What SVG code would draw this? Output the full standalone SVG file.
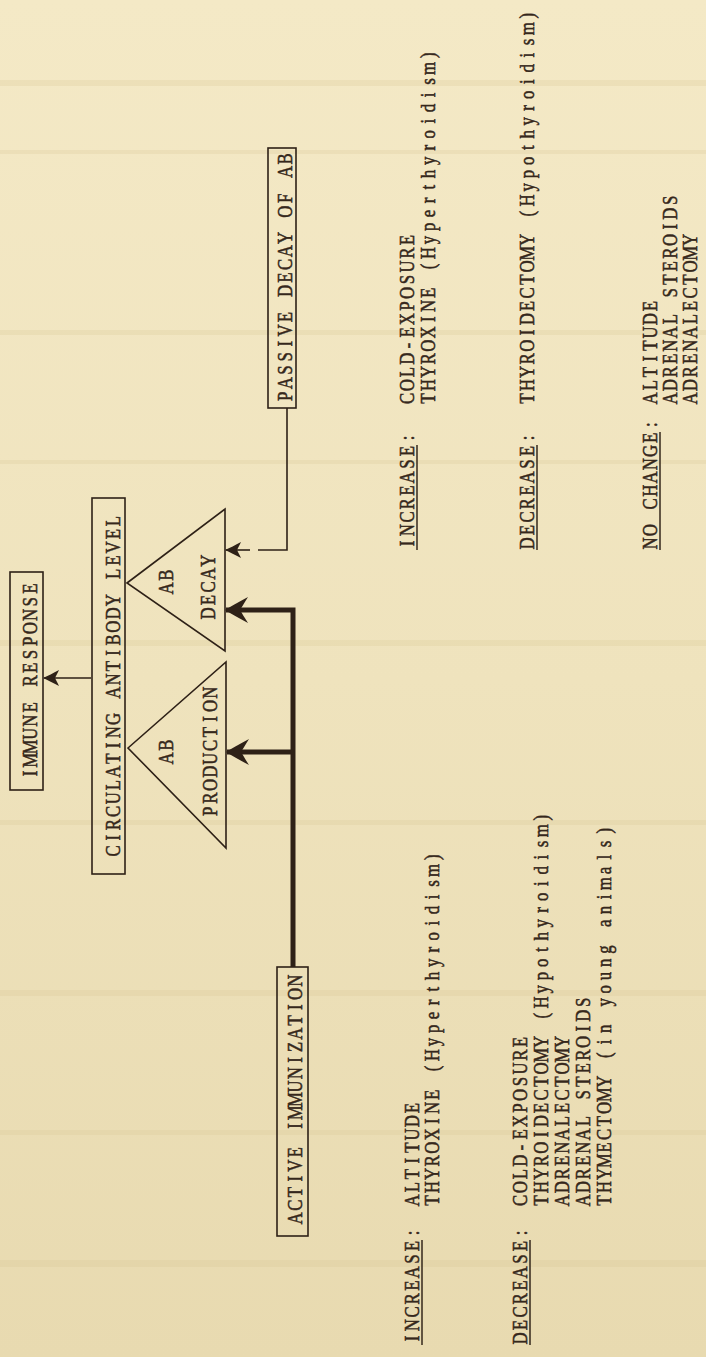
<svg xmlns="http://www.w3.org/2000/svg" width="706" height="1357" viewBox="0 0 706 1357">
<defs>
<linearGradient id="bg" x1="0" y1="0" x2="0" y2="1">
<stop offset="0" stop-color="#f4e9c6"/>
<stop offset="0.5" stop-color="#efe3bd"/>
<stop offset="1" stop-color="#e8dab0"/>
</linearGradient>
<marker id="ahThin" markerUnits="userSpaceOnUse" orient="auto" refX="0" refY="0" markerWidth="40" markerHeight="40" overflow="visible">
<path d="M1,0 C-4,-2 -9,-5 -15,-8 C-13,-4 -12,-2 -11,0 C-12,2 -13,4 -15,8 C-9,5 -4,2 1,0 Z" fill="#2e2117"/>
</marker>
<marker id="ahThick" markerUnits="userSpaceOnUse" orient="auto" refX="0" refY="0" markerWidth="50" markerHeight="50" overflow="visible">
<path d="M1,0 C-6,-4 -14,-9 -22,-13 C-18,-7 -16,-3 -14,0 C-16,3 -18,7 -22,13 C-14,9 -6,4 1,0 Z" fill="#2e2117"/>
</marker>
</defs>
<style>
.box{fill:none;stroke:#2e2117;stroke-width:1.6}
.t{font-family:"Liberation Serif","Times New Roman",serif;font-size:21px;text-anchor:middle;fill:#35271b;stroke:#35271b;stroke-width:0.55}
.ul{stroke:#35271b;stroke-width:1.5}
</style>
<rect x="0" y="0" width="706" height="1357" fill="url(#bg)"/>
<g opacity="0.25" fill="#d9c795">
<rect x="0" y="80" width="706" height="6"/>
<rect x="0" y="150" width="706" height="4"/>
<rect x="0" y="330" width="706" height="5"/>
<rect x="0" y="460" width="706" height="4"/>
<rect x="0" y="640" width="706" height="6"/>
<rect x="0" y="820" width="706" height="5"/>
<rect x="0" y="990" width="706" height="6"/>
<rect x="0" y="1130" width="706" height="5"/>
<rect x="0" y="1260" width="706" height="7"/>
</g>

<g id="connectors" fill="none" stroke="#2e2117">
<path d="M91,678 H44" stroke-width="1.6" marker-end="url(#ahThin)"/>
<path d="M287,408 V550 H258" stroke-width="1.6"/>
<path d="M250,550 H226" stroke-width="1.6" marker-end="url(#ahThin)"/>
<path d="M293,967 V610 H226" stroke-width="5" stroke-linejoin="miter" marker-end="url(#ahThick)"/>
<path d="M293,752 H227" stroke-width="5" marker-end="url(#ahThick)"/>
</g>

<g id="immune-response">
<rect class="box" x="10" y="572" width="33" height="218"/>
<text class="t" transform="translate(37,780) rotate(-90) scale(0.8,1)" x="8.25 24.75 41.25 57.75 74.25 90.75 107.25 123.75 140.25 156.75 173.25 189.75 206.25 222.75 239.25">IMMUNE RESPONSE</text>
</g>
<g id="circulating-antibody-level">
<rect class="box" x="92" y="498" width="33" height="376"/>
<text class="t" transform="translate(120,857.6) rotate(-90) scale(0.8,1)" x="8.25 24.75 41.25 57.75 74.25 90.75 107.25 123.75 140.25 156.75 173.25 189.75 206.25 222.75 239.25 255.75 272.25 288.75 305.25 321.75 338.25 354.75 371.25 387.75 404.25 420.75">CIRCULATING ANTIBODY LEVEL</text>
</g>
<g id="ab-decay">
<path class="box" d="M127,583 L225,509 L225,651 Z"/>
<text class="t" transform="translate(173,595) rotate(-90) scale(0.8,1)" x="8.25 24.75">AB</text>
<text class="t" transform="translate(215,620) rotate(-90) scale(0.8,1)" x="8.25 24.75 41.25 57.75 74.25">DECAY</text>
</g>
<g id="ab-production">
<path class="box" d="M128,748 L226,662 L226,848 Z"/>
<text class="t" transform="translate(173,765) rotate(-90) scale(0.8,1)" x="8.25 24.75">AB</text>
<text class="t" transform="translate(217,818) rotate(-90) scale(0.8,1)" x="8.25 24.75 41.25 57.75 74.25 90.75 107.25 123.75 140.25 156.75">PRODUCTION</text>
</g>
<g id="passive-decay-of-ab">
<rect class="box" x="268" y="148" width="28" height="260"/>
<text class="t" transform="translate(292,403) rotate(-90) scale(0.8,1)" x="8.25 24.75 41.25 57.75 74.25 90.75 107.25 123.75 140.25 156.75 173.25 189.75 206.25 222.75 239.25 255.75 272.25 288.75 305.25">PASSIVE DECAY OF AB</text>
</g>
<g id="active-immunization">
<rect class="box" x="277" y="967" width="31" height="269"/>
<text class="t" transform="translate(302,1225) rotate(-90) scale(0.8,1)" x="8.25 24.75 41.25 57.75 74.25 90.75 107.25 123.75 140.25 156.75 173.25 189.75 206.25 222.75 239.25 255.75 272.25 288.75 305.25">ACTIVE IMMUNIZATION</text>
</g>

<g id="legend-top">
<text class="t" transform="translate(414,550) rotate(-90) scale(0.8,1)" x="8.25 24.75 41.25 57.75 74.25 90.75 107.25 123.75 140.25">INCREASE:</text>
<line class="ul" x1="417" y1="550" x2="417" y2="445"/>
<text class="t" transform="translate(414,405) rotate(-90) scale(0.8,1)" x="8.25 24.75 41.25 57.75 74.25 90.75 107.25 123.75 140.25 156.75 173.25 189.75 206.25">COLD-EXPOSURE</text>
<text class="t" transform="translate(435,405) rotate(-90) scale(0.8,1)" x="8.25 24.75 41.25 57.75 74.25 90.75 107.25 123.75 140.25 156.75 173.25 189.75 206.25 222.75 239.25 255.75 272.25 288.75 305.25 321.75 338.25 354.75 371.25 387.75 404.25 420.75 437.25">THYROXINE (Hyperthyroidism)</text>
<text class="t" transform="translate(534,550) rotate(-90) scale(0.8,1)" x="8.25 24.75 41.25 57.75 74.25 90.75 107.25 123.75 140.25">DECREASE:</text>
<line class="ul" x1="537" y1="550" x2="537" y2="445"/>
<text class="t" transform="translate(534,405) rotate(-90) scale(0.8,1)" x="8.25 24.75 41.25 57.75 74.25 90.75 107.25 123.75 140.25 156.75 173.25 189.75 206.25 222.75 239.25 255.75 272.25 288.75 305.25 321.75 338.25 354.75 371.25 387.75 404.25 420.75 437.25 453.75 470.25 486.75">THYROIDECTOMY (Hypothyroidism)</text>
<text class="t" transform="translate(657,550) rotate(-90) scale(0.8,1)" x="8.25 24.75 41.25 57.75 74.25 90.75 107.25 123.75 140.25 156.75">NO CHANGE:</text>
<line class="ul" x1="660" y1="550" x2="660" y2="432"/>
<text class="t" transform="translate(657,405) rotate(-90) scale(0.8,1)" x="8.25 24.75 41.25 57.75 74.25 90.75 107.25 123.75">ALTITUDE</text>
<text class="t" transform="translate(677,405) rotate(-90) scale(0.8,1)" x="8.25 24.75 41.25 57.75 74.25 90.75 107.25 123.75 140.25 156.75 173.25 189.75 206.25 222.75 239.25 255.75">ADRENAL STEROIDS</text>
<text class="t" transform="translate(697,405) rotate(-90) scale(0.8,1)" x="8.25 24.75 41.25 57.75 74.25 90.75 107.25 123.75 140.25 156.75 173.25 189.75 206.25">ADRENALECTOMY</text>
</g>

<g id="legend-bottom">
<text class="t" transform="translate(419,1345) rotate(-90) scale(0.8,1)" x="8.25 24.75 41.25 57.75 74.25 90.75 107.25 123.75 140.25">INCREASE:</text>
<line class="ul" x1="422" y1="1345" x2="422" y2="1240"/>
<text class="t" transform="translate(419,1207) rotate(-90) scale(0.8,1)" x="8.25 24.75 41.25 57.75 74.25 90.75 107.25 123.75">ALTITUDE</text>
<text class="t" transform="translate(439,1207) rotate(-90) scale(0.8,1)" x="8.25 24.75 41.25 57.75 74.25 90.75 107.25 123.75 140.25 156.75 173.25 189.75 206.25 222.75 239.25 255.75 272.25 288.75 305.25 321.75 338.25 354.75 371.25 387.75 404.25 420.75 437.25">THYROXINE (Hyperthyroidism)</text>
<text class="t" transform="translate(527,1345) rotate(-90) scale(0.8,1)" x="8.25 24.75 41.25 57.75 74.25 90.75 107.25 123.75 140.25">DECREASE:</text>
<line class="ul" x1="530" y1="1345" x2="530" y2="1240"/>
<text class="t" transform="translate(527,1207) rotate(-90) scale(0.8,1)" x="8.25 24.75 41.25 57.75 74.25 90.75 107.25 123.75 140.25 156.75 173.25 189.75 206.25">COLD-EXPOSURE</text>
<text class="t" transform="translate(548,1207) rotate(-90) scale(0.8,1)" x="8.25 24.75 41.25 57.75 74.25 90.75 107.25 123.75 140.25 156.75 173.25 189.75 206.25 222.75 239.25 255.75 272.25 288.75 305.25 321.75 338.25 354.75 371.25 387.75 404.25 420.75 437.25 453.75 470.25 486.75">THYROIDECTOMY (Hypothyroidism)</text>
<text class="t" transform="translate(569,1207) rotate(-90) scale(0.8,1)" x="8.25 24.75 41.25 57.75 74.25 90.75 107.25 123.75 140.25 156.75 173.25 189.75 206.25">ADRENALECTOMY</text>
<text class="t" transform="translate(590,1207) rotate(-90) scale(0.8,1)" x="8.25 24.75 41.25 57.75 74.25 90.75 107.25 123.75 140.25 156.75 173.25 189.75 206.25 222.75 239.25 255.75">ADRENAL STEROIDS</text>
<text class="t" transform="translate(611,1207) rotate(-90) scale(0.8,1)" x="8.25 24.75 41.25 57.75 74.25 90.75 107.25 123.75 140.25 156.75 173.25 189.75 206.25 222.75 239.25 255.75 272.25 288.75 305.25 321.75 338.25 354.75 371.25 387.75 404.25 420.75 437.25 453.75 470.25">THYMECTOMY (in young animals)</text>
</g>
</svg>
